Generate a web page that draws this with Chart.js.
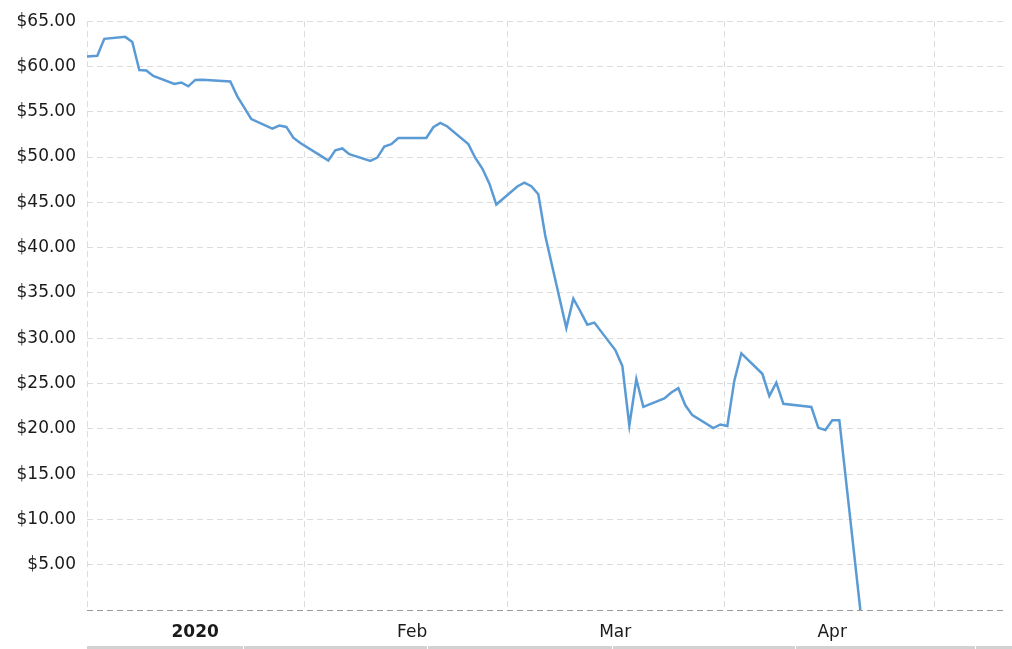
<!DOCTYPE html>
<html>
<head>
<meta charset="utf-8">
<script src="https://cdn.jsdelivr.net/npm/chart.js@4/dist/chart.umd.min.js"></script>
<style>
  html, body { margin: 0; padding: 0; background: #fff; }
  #wrap { width: 1012px; height: 649px; }
</style>
</head>
<body>
<div id="wrap"><canvas id="oil"></canvas></div>
<script>
// daily closing price
const dates = [
  '2019-12-31', '2020-01-02', '2020-01-03', '2020-01-06', '2020-01-07', '2020-01-08',
  '2020-01-09', '2020-01-10', '2020-01-13', '2020-01-14', '2020-01-15', '2020-01-16',
  '2020-01-17', '2020-01-21', '2020-01-22', '2020-01-23', '2020-01-24', '2020-01-27',
  '2020-01-28', '2020-01-29', '2020-01-30', '2020-01-31', '2020-02-03', '2020-02-04',
  '2020-02-05', '2020-02-06', '2020-02-07', '2020-02-10', '2020-02-11', '2020-02-12',
  '2020-02-13', '2020-02-14', '2020-02-18', '2020-02-19', '2020-02-20', '2020-02-21',
  '2020-02-24', '2020-02-25', '2020-02-26', '2020-02-27', '2020-02-28', '2020-03-02',
  '2020-03-03', '2020-03-04', '2020-03-05', '2020-03-06', '2020-03-09', '2020-03-10',
  '2020-03-11', '2020-03-12', '2020-03-13', '2020-03-16', '2020-03-17', '2020-03-18',
  '2020-03-19', '2020-03-20', '2020-03-23', '2020-03-24', '2020-03-25', '2020-03-26',
  '2020-03-27', '2020-03-30', '2020-03-31', '2020-04-01', '2020-04-02', '2020-04-03',
  '2020-04-06', '2020-04-07', '2020-04-08', '2020-04-09', '2020-04-13', '2020-04-14',
  '2020-04-15', '2020-04-16', '2020-04-17', '2020-04-20'
];
const prices = [
  61.06, 61.18, 63.05, 63.27, 62.70, 59.61,
  59.56, 58.95, 58.08, 58.23, 57.81, 58.52,
  58.54, 58.34, 56.70, 55.45, 54.19, 53.14,
  53.48, 53.33, 52.14, 51.56, 50.11, 49.61,
  50.75, 50.95, 50.32, 49.57, 49.94, 51.17,
  51.42, 52.10, 52.10, 53.29, 53.78, 53.38,
  51.43, 49.90, 48.73, 47.09, 44.76, 46.75,
  47.18, 46.78, 45.90, 41.28, 31.13, 34.36,
  32.98, 31.50, 31.73, 28.70, 26.95, 20.37,
  25.50, 22.43, 23.36, 24.01, 24.49, 22.60,
  21.51, 20.09, 20.48, 20.31, 25.32, 28.34,
  26.08, 23.63, 25.09, 22.76, 22.41, 20.11,
  19.87, 20.95, 20.95, 0
];

const monthStarts = ['2020-01-01', '2020-02-01', '2020-03-01', '2020-04-01', '2020-05-01'];
const monthLabels = ['2020', 'Feb', 'Mar', 'Apr'];
const yMax = 65;
const yStep = 5;

const FONT = 'DejaVu Sans, Verdana, sans-serif';
const GRID = '#dcdcdc';
const SHIFT = -0.47;   // month gridlines sit a bit before the daily points
const SPAN = 131.42;   // days visible on the x axis

function dayNum(s) {
  return (Date.parse(s) - Date.parse('2020-01-01')) / 86400000;
}

const points = dates.map((d, i) => ({ x: dayNum(d), y: prices[i] }));
const xMin = dayNum(monthStarts[0]) + SHIFT;

// thin grey strip under the axis labels
const navigatorBar = {
  id: 'navigatorBar',
  afterDraw(chart) {
    const c = chart.ctx;
    const left = chart.chartArea.left;
    c.save();
    c.fillStyle = '#d2d2d2';
    c.fillRect(left, chart.height - 3, chart.width - left, 3);
    c.fillStyle = '#fff';
    [243, 427, 612, 795, 975].forEach(x => c.fillRect(x, chart.height - 3, 1, 3));
    c.restore();
  }
};

const ctx = document.getElementById('oil').getContext('2d');

new Chart(ctx, {
  type: 'line',
  data: {
    datasets: [{
      data: points,
      borderColor: '#5b9bd5',
      borderWidth: 2.5,
      pointRadius: 0,
      tension: 0,
      fill: false
    }]
  },
  options: {
    responsive: true,
    maintainAspectRatio: false,
    animation: false,
    layout: { padding: { top: 15, right: 5, bottom: 0, left: 0 } },
    plugins: {
      legend: { display: false },
      tooltip: { enabled: false }
    },
    scales: {
      x: {
        type: 'linear',
        min: xMin,
        max: xMin + SPAN,
        afterBuildTicks: scale => {
          const grid = monthStarts.map(m => ({ value: dayNum(m) + SHIFT }));
          const labels = monthLabels.map((l, i) => ({ value: dayNum(monthStarts[i]) + SHIFT + 15.45, lbl: l }));
          scale.ticks = grid.concat(labels).sort((a, b) => a.value - b.value);
        },
        afterFit: scale => { scale.height = 39; },
        grid: {
          color: c => (c.tick && c.tick.lbl) ? 'rgba(0,0,0,0)' : GRID,
          drawTicks: false
        },
        border: { display: false, dash: [6, 4] },
        ticks: {
          autoSkip: false,
          maxRotation: 0,
          padding: 12,
          color: '#1a1a1a',
          font: c => ({
            family: FONT,
            size: 17,
            weight: (c.tick && c.tick.lbl === '2020') ? 'bold' : 'normal'
          }),
          callback: function (value, index, ticks) {
            return ticks[index].lbl || '';
          }
        }
      },
      y: {
        min: 0,
        max: yMax,
        afterFit: scale => { scale.width = 87; },
        grid: {
          color: c => (c.tick && c.tick.value === 0) ? '#9a9a9a' : GRID,
          drawTicks: false
        },
        border: { display: false, dash: [6, 4] },
        ticks: {
          stepSize: yStep,
          padding: 11,
          color: '#1a1a1a',
          font: { family: FONT, size: 17 },
          callback: v => v === 0 ? '' : '$' + v.toFixed(2)
        }
      }
    }
  },
  plugins: [navigatorBar]
});
</script>
</body>
</html>
